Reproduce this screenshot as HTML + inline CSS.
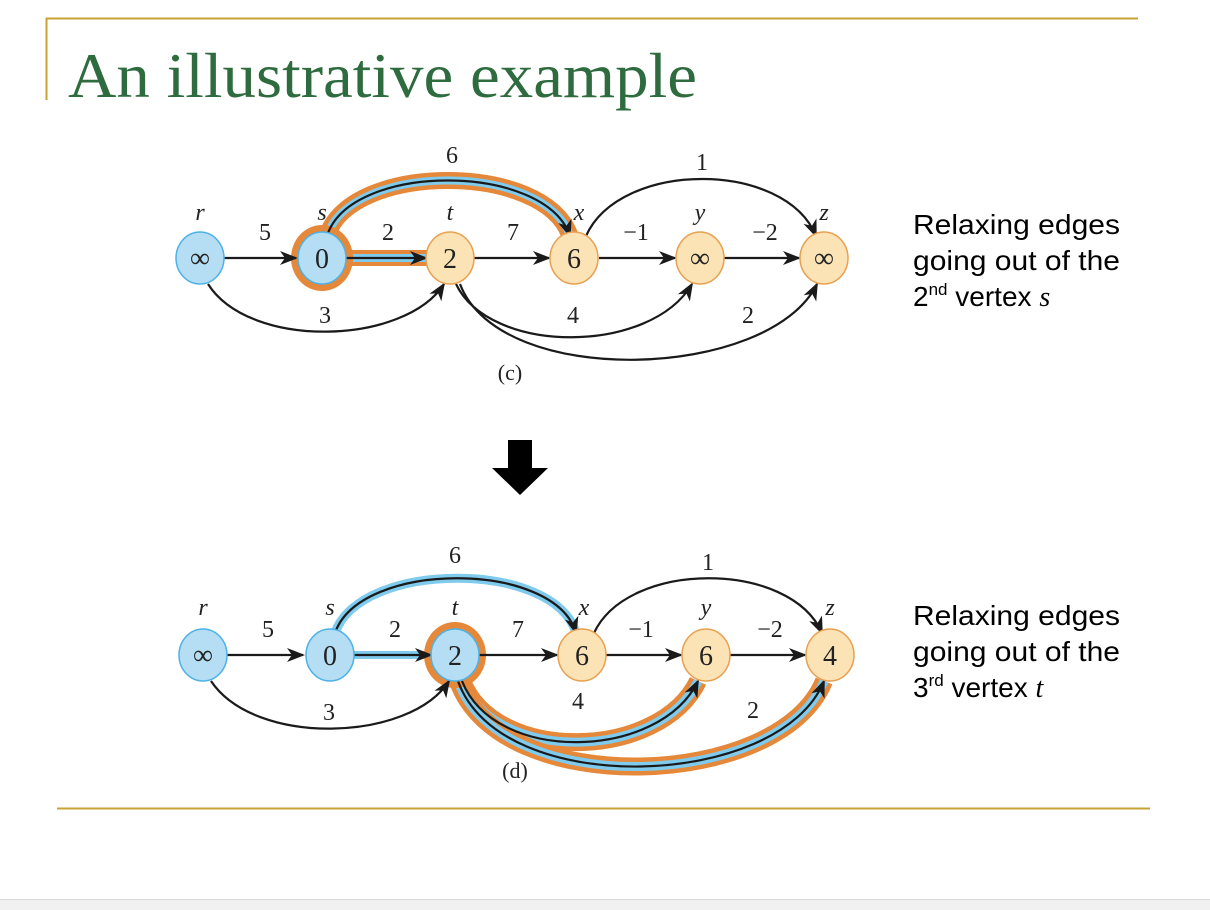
<!DOCTYPE html>
<html><head><meta charset="utf-8"><style>
html,body{margin:0;padding:0;background:#fff;}
svg{display:block;}
</style></head><body>
<svg width="1210" height="910" viewBox="0 0 1210 910" xmlns="http://www.w3.org/2000/svg">
<defs>
<marker id="ah" markerWidth="18" markerHeight="14" refX="16" refY="7" orient="auto" markerUnits="userSpaceOnUse">
<path d="M0,0 L18,7 L0,14 L5,7 Z" fill="#1a1a1a"/>
</marker>
</defs>
<line x1="46" y1="18.5" x2="1138" y2="18.5" stroke="#c9a233" stroke-width="2"/>
<line x1="46.5" y1="18" x2="46.5" y2="100" stroke="#c9a233" stroke-width="2"/>
<line x1="57" y1="808.5" x2="1150" y2="808.5" stroke="#c9a233" stroke-width="2"/>
<rect x="0" y="899" width="1210" height="11" fill="#f1f1f1"/>
<line x1="0" y1="899.5" x2="1210" y2="899.5" stroke="#d8d8d8"/>
<text x="68" y="97" font-family="Liberation Serif, serif" font-size="64" fill="#2e6b3e" textLength="629" lengthAdjust="spacingAndGlyphs">An illustrative example</text>

<!-- ===== TOP DIAGRAM (c) ===== -->
<g font-family="Liberation Serif, serif" fill="none">
<path d="M327,236 C350,162 545,162 570,236" stroke="#e5883a" stroke-width="17"/>
<path d="M327,236 C350,162 545,162 570,236" stroke="#7ecbee" stroke-width="8"/>
<line x1="330" y1="258" x2="430" y2="258" stroke="#e5883a" stroke-width="16"/>
<line x1="330" y1="258" x2="430" y2="258" stroke="#7ecbee" stroke-width="8"/>
<ellipse cx="322" cy="258" rx="31" ry="33" fill="#e5883a"/>
<g stroke="#1a1a1a" stroke-width="2.2" marker-end="url(#ah)">
<line x1="224" y1="258" x2="296" y2="258"/>
<line x1="346" y1="258" x2="426" y2="258"/>
<line x1="474" y1="258" x2="549" y2="258"/>
<line x1="599" y1="258" x2="675" y2="258"/>
<line x1="724" y1="258" x2="799" y2="258"/>
<path d="M327,236 C350,162 545,162 570,236"/>
<path d="M586,236 C620,160 785,160 816,236"/>
<path d="M208,284 C250,350 405,345 444,284"/>
<path d="M456,284 C490,355 650,355 692,284"/>
<path d="M460,284 C500,390 770,380 817,284"/>
</g>
<g stroke-width="1.5">
<ellipse cx="200" cy="258" rx="24" ry="26" fill="#b5ddf3" stroke="#4db2e6"/>
<ellipse cx="322" cy="258" rx="24" ry="26" fill="#b5ddf3" stroke="#4db2e6"/>
<ellipse cx="450" cy="258" rx="24" ry="26" fill="#fbe3b5" stroke="#e8a050"/>
<ellipse cx="574" cy="258" rx="24" ry="26" fill="#fbe3b5" stroke="#e8a050"/>
<ellipse cx="700" cy="258" rx="24" ry="26" fill="#fbe3b5" stroke="#e8a050"/>
<ellipse cx="824" cy="258" rx="24" ry="26" fill="#fbe3b5" stroke="#e8a050"/>
</g>
<g fill="#222" font-size="28" text-anchor="middle">
<text x="200" y="267">∞</text><text x="322" y="268">0</text><text x="450" y="268">2</text>
<text x="574" y="268">6</text><text x="700" y="267">∞</text><text x="824" y="267">∞</text>
</g>
<g fill="#222" font-size="24" font-style="italic" text-anchor="middle">
<text x="200" y="220">r</text><text x="322" y="220">s</text><text x="450" y="220">t</text>
<text x="579" y="220">x</text><text x="700" y="220">y</text><text x="824" y="220">z</text>
</g>
<g fill="#222" font-size="24" text-anchor="middle">
<text x="265" y="240">5</text><text x="388" y="240">2</text><text x="513" y="240">7</text>
<text x="636" y="240">−1</text><text x="765" y="240">−2</text>
<text x="452" y="163">6</text><text x="702" y="170">1</text>
<text x="325" y="323">3</text><text x="573" y="323">4</text><text x="748" y="323">2</text>
<text x="510" y="380" font-size="22">(c)</text>
</g>
</g>

<path d="M508,440 L532,440 L532,468 L548,468 L520,495 L492,468 L508,468 Z" fill="#000"/>

<!-- ===== BOTTOM DIAGRAM (d) ===== -->
<g font-family="Liberation Serif, serif" fill="none">
<path d="M335,633 C360,560 555,560 576,633" stroke="#7ecbee" stroke-width="9"/>
<line x1="340" y1="655" x2="435" y2="655" stroke="#7ecbee" stroke-width="8"/>
<path d="M462,681 C495,765 660,760 698,681" stroke="#e5883a" stroke-width="18"/>
<path d="M462,681 C495,765 660,760 698,681" stroke="#7ecbee" stroke-width="9"/>
<path d="M458,681 C500,800 780,790 824,681" stroke="#e5883a" stroke-width="18"/>
<path d="M458,681 C500,800 780,790 824,681" stroke="#7ecbee" stroke-width="9"/>
<ellipse cx="455" cy="655" rx="31" ry="33" fill="#e5883a"/>
<g stroke="#1a1a1a" stroke-width="2.2" marker-end="url(#ah)">
<line x1="227" y1="655" x2="303" y2="655"/>
<line x1="354" y1="655" x2="431" y2="655"/>
<line x1="479" y1="655" x2="557" y2="655"/>
<line x1="606" y1="655" x2="681" y2="655"/>
<line x1="730" y1="655" x2="805" y2="655"/>
<path d="M335,633 C360,560 555,560 576,633"/>
<path d="M594,633 C628,560 790,560 822,633"/>
<path d="M211,681 C255,747 410,742 449,681"/>
<path d="M462,681 C495,765 660,760 698,681"/>
<path d="M458,681 C500,800 780,790 824,681"/>
</g>
<g stroke-width="1.5">
<ellipse cx="203" cy="655" rx="24" ry="26" fill="#b5ddf3" stroke="#4db2e6"/>
<ellipse cx="330" cy="655" rx="24" ry="26" fill="#b5ddf3" stroke="#4db2e6"/>
<ellipse cx="455" cy="655" rx="24" ry="26" fill="#b5ddf3" stroke="#4db2e6"/>
<ellipse cx="582" cy="655" rx="24" ry="26" fill="#fbe3b5" stroke="#e8a050"/>
<ellipse cx="706" cy="655" rx="24" ry="26" fill="#fbe3b5" stroke="#e8a050"/>
<ellipse cx="830" cy="655" rx="24" ry="26" fill="#fbe3b5" stroke="#e8a050"/>
</g>
<g fill="#222" font-size="28" text-anchor="middle">
<text x="203" y="664">∞</text><text x="330" y="665">0</text><text x="455" y="665">2</text>
<text x="582" y="665">6</text><text x="706" y="665">6</text><text x="830" y="665">4</text>
</g>
<g fill="#222" font-size="24" font-style="italic" text-anchor="middle">
<text x="203" y="615">r</text><text x="330" y="615">s</text><text x="455" y="615">t</text>
<text x="584" y="615">x</text><text x="706" y="615">y</text><text x="830" y="615">z</text>
</g>
<g fill="#222" font-size="24" text-anchor="middle">
<text x="268" y="637">5</text><text x="395" y="637">2</text><text x="518" y="637">7</text>
<text x="641" y="637">−1</text><text x="770" y="637">−2</text>
<text x="455" y="563">6</text><text x="708" y="570">1</text>
<text x="329" y="720">3</text><text x="578" y="709">4</text><text x="753" y="718">2</text>
<text x="515" y="778" font-size="22">(d)</text>
</g>
</g>

<g font-family="Liberation Sans, sans-serif" font-size="28" fill="#000">
<text x="913" y="234" textLength="207" lengthAdjust="spacingAndGlyphs">Relaxing edges</text>
<text x="913" y="270" textLength="207" lengthAdjust="spacingAndGlyphs">going out of the</text>
<text x="913" y="306">2<tspan font-size="17" dy="-11">nd</tspan><tspan dy="11"> vertex </tspan><tspan font-family="Liberation Serif, serif" font-style="italic">s</tspan></text>
<text x="913" y="625" textLength="207" lengthAdjust="spacingAndGlyphs">Relaxing edges</text>
<text x="913" y="661" textLength="207" lengthAdjust="spacingAndGlyphs">going out of the</text>
<text x="913" y="697">3<tspan font-size="17" dy="-11">rd</tspan><tspan dy="11"> vertex </tspan><tspan font-family="Liberation Serif, serif" font-style="italic">t</tspan></text>
</g>
</svg>
</body></html>
